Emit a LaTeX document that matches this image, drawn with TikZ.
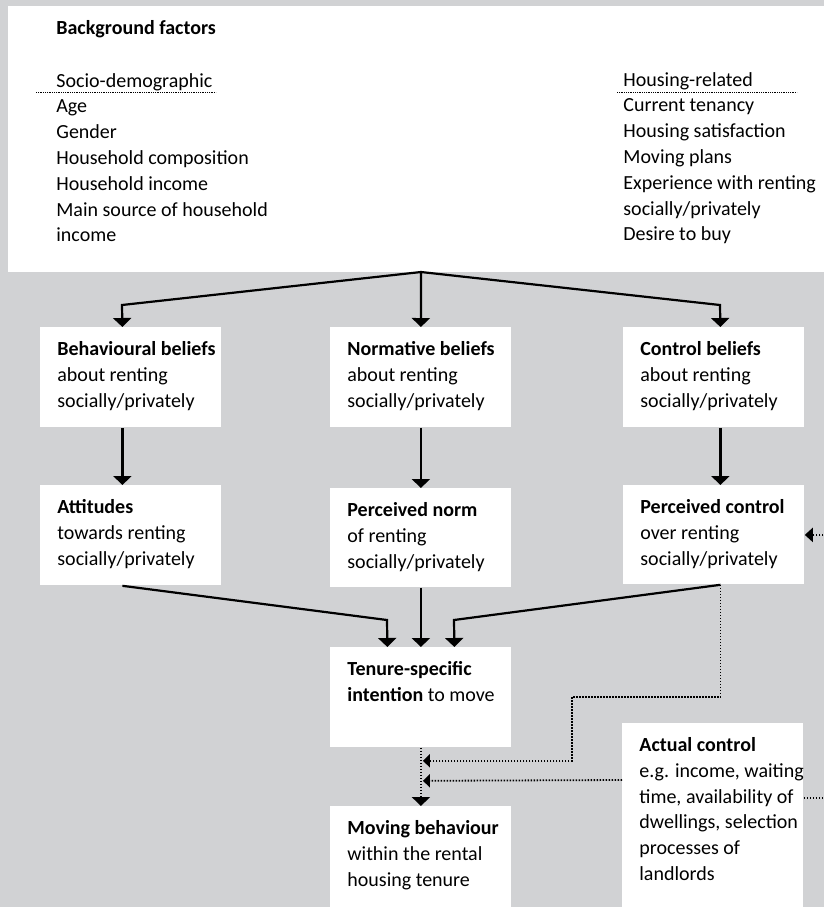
\documentclass[tikz,border=0pt]{standalone}
\usepackage{fontspec}
\setmainfont{Carlito}
\usetikzlibrary{arrows.meta,calc}
\definecolor{panelgray}{HTML}{D1D2D4}
\newcommand{\cellbody}[2]{\parbox[t][#1][t]{73.5pt}{\makebox[73.5pt][l]{\begin{tabular}[t]{@{}l@{}}#2\end{tabular}}}}

\begin{document}
\begin{tikzpicture}[x=0.5pt, y=-0.5pt,
    font=\fontsize{10}{12.9}\selectfont,
    cell/.style={fill=white, anchor=north west, inner xsep=8.5pt, inner ysep=5pt},
    flow/.style={line width=1.1pt, -{Triangle[width=9pt,length=4.5pt]}},
    fb/.style={line width=0.9pt, dash pattern=on 0.7pt off 0.8pt, -{Triangle[width=7pt,length=4pt]}},
    underl/.style={line width=0.4pt, dash pattern=on 0.4pt off 0.5pt}]
    \clip (0,0) rectangle (824,907);
    \fill[panelgray] (0,0) rectangle (824,907);

    \node[fill=white, anchor=north west, minimum width=411pt, minimum height=133pt, inner sep=0pt] (factors) at (8,6) {};
    \node[anchor=base west, inner sep=0pt] (factorstitle) at (56,34) {\textbf{Background factors}};
    \node[anchor=base west, inner sep=0pt] (socio) at (56,87) {\parbox[t]{150pt}{Socio-demographic\\Age\\Gender\\Household composition\\Household income\\Main source of household\\income}};
    \node[anchor=base west, inner sep=0pt] (housing) at (623,86) {\parbox[t]{100pt}{Housing-related\\Current tenancy\\Housing satisfaction\\Moving plans\\Experience with renting\\socially/privately\\Desire to buy}};
    \draw[underl] (36,92) -- (216,92);
    \draw[underl] (617,92) -- (797,92);

    \node[cell] (behbel) at (40,327) {\cellbody{40pt}{\textbf{Behavioural beliefs}\\about renting\\socially/privately}};
    \node[cell] (normbel) at (330,327) {\cellbody{40pt}{\textbf{Normative beliefs}\\about renting\\socially/privately}};
    \node[cell] (ctrlbel) at (623,327) {\cellbody{40pt}{\textbf{Control beliefs}\\about renting\\socially/privately}};

    \node[cell] (attitude) at (40,485) {\cellbody{40pt}{\textbf{Attitudes}\\towards renting\\socially/privately}};
    \node[cell] (percnorm) at (330,488) {\cellbody{39.5pt}{\textbf{Perceived norm}\\of renting\\socially/privately}};
    \node[cell] (percctrl) at (623,485) {\cellbody{39.5pt}{\textbf{Perceived control}\\over renting\\socially/privately}};

    \node[cell] (intent) at (330,647) {\cellbody{40pt}{\textbf{Tenure-specific}\\\textbf{intention} to move}};
    \node[cell] (actual) at (622,723) {\cellbody{88.5pt}{\textbf{Actual control}\\e.g. income, waiting\\time, availability of\\dwellings, selection\\processes of\\landlords}};
    \node[cell] (moving) at (330,806) {\cellbody{47pt}{\textbf{Moving behaviour}\\within the rental\\housing tenure}};

    \coordinate (split) at (421,272);
    \draw[flow] (split) -- (122,305) -- ($(behbel.north)+(-8.5,0)$);
    \draw[flow] (split) -- (normbel.north);
    \draw[flow] (split) -- (720,305) -- ($(ctrlbel.north)+(6.5,0)$);

    \draw[flow] ($(behbel.south)+(-8.5,0)$) -- ($(attitude.north)+(-8.5,0)$);
    \draw[flow] (normbel.south) -- (percnorm.north);
    \draw[flow] ($(ctrlbel.south)+(6.5,0)$) -- ($(percctrl.north)+(6.5,0)$);

    \draw[flow] ($(attitude.south)+(-8.5,0)$) -- (387,620) -- ($(intent.north)+(-33.5,0)$);
    \draw[flow] (percnorm.south) -- (intent.north);
    \draw[flow] ($(percctrl.south)+(6.5,0)$) -- (454,620) -- ($(intent.north)+(33.5,0)$);

    \draw[fb, -{Triangle[width=6.5pt,length=3.5pt]}] ($(percctrl.south)+(6.5,0)$) |- (572,697) |- ($(intent.south)+(2,13)$);
    \draw[fb, -{Triangle[width=6.5pt,length=3.5pt]}] ($(actual.north west)+(0,57)$) -- ($(intent.south)+(2,33)$);
    \draw[fb, -{Triangle[width=9pt,length=4.5pt]}] (intent.south) -- (moving.north);
    \draw[fb] ($(actual.north east)+(0,75)$) -- (850,798) |- (percctrl.east);
\end{tikzpicture}
\end{document}
